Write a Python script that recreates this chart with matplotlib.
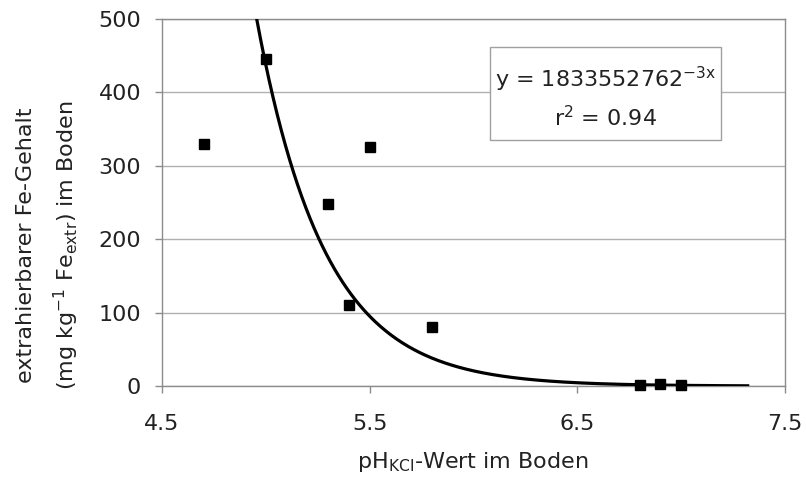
import numpy as np
import matplotlib
matplotlib.use('Agg')
import matplotlib.pyplot as plt
from matplotlib.patches import Rectangle

ph_values = [4.7, 5.0, 5.3, 5.4, 5.5, 5.8, 6.8, 6.9, 7.0]
fe_values = [330, 445, 248, 110, 326, 80, 2, 3, 2]

# exponential trendline y = a * exp(-k x)
fit_a = 1833552762
fit_k = 3.05
fit_range = (4.7, 7.32)

x_ticks = [4.5, 5.5, 6.5, 7.5]
y_ticks = [0, 100, 200, 300, 400, 500]

grey = '#8c8c8c'
fs = 16

fig = plt.figure(figsize=(8.06, 4.79), dpi=100)
ax = fig.add_axes([0.201, 0.194, 0.773, 0.767])

ax.set_xlim(4.5, 7.5)
ax.set_ylim(0, 500)
ax.set_xticks(x_ticks)
ax.set_xticklabels([str(t) for t in x_ticks])
ax.set_yticks(y_ticks)
ax.yaxis.grid(True, color='#b0b0b0', linewidth=1.0)
ax.set_axisbelow(True)
for side in ax.spines.values():
    side.set_color(grey)
    side.set_linewidth(1.0)
ax.tick_params(axis='x', direction='out', length=5, width=1, color=grey, pad=15, labelsize=fs)
ax.tick_params(axis='y', direction='out', length=5, width=1, color=grey, pad=10, labelsize=fs)
for lab in ax.get_xticklabels() + ax.get_yticklabels():
    lab.set_color('#222222')

# trendline
xs = np.linspace(fit_range[0], fit_range[1], 400)
ax.plot(xs, fit_a * np.exp(-fit_k * xs), color='black', linewidth=2.3, zorder=3)

# data points
ax.plot(ph_values, fe_values, linestyle='none', marker='s', markersize=7,
        color='black', zorder=4, clip_on=False)

# equation box
ax.add_patch(Rectangle((6.077, 335), 1.115, 126, facecolor='white',
                       edgecolor='#a0a0a0', linewidth=1.0, zorder=5))
ax.text(6.635, 418, r'y = 1833552762$^{\mathrm{-3x}}$', ha='center', va='center',
        fontsize=fs, color='#222222', zorder=6)
ax.text(6.635, 366, r'r$^{2}$ = 0.94', ha='center', va='center',
        fontsize=fs, color='#222222', zorder=6)

# axis labels
fig.text(0.587, 0.035, r'pH$_{\mathrm{KCl}}$-Wert im Boden', ha='center', va='center',
         fontsize=fs, color='#222222')
fig.text(0.032, 0.489, 'extrahierbarer Fe-Gehalt', rotation=90, ha='center', va='center',
         fontsize=fs, color='#222222')
fig.text(0.082, 0.489, r'(mg kg$^{\mathrm{-1}}$ Fe$_{\mathrm{extr}}$) im Boden', rotation=90,
         ha='center', va='center', fontsize=fs, color='#222222')

fig.savefig('out.png', dpi=100)
